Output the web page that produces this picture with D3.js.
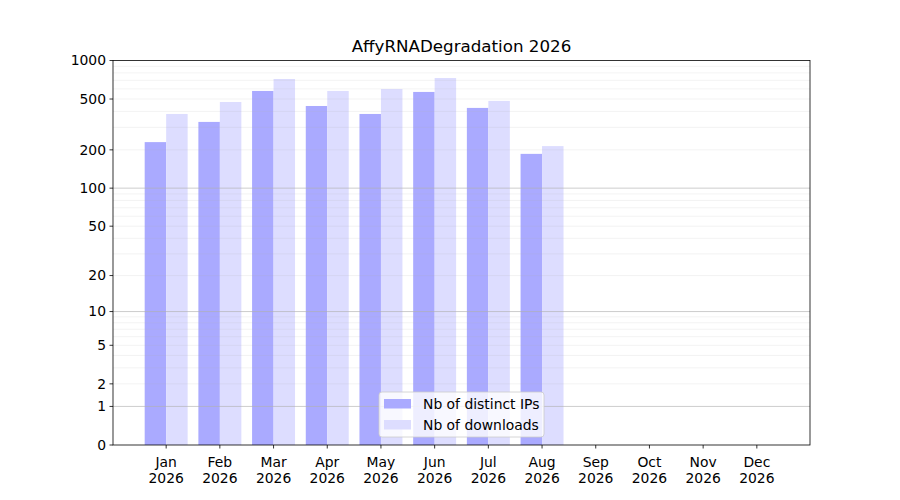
<!DOCTYPE html>
<html><head><meta charset="utf-8">
<script src="https://cdn.jsdelivr.net/npm/d3@7"></script>
<style>body{margin:0;background:#fff}svg{font-family:"DejaVu Sans",sans-serif}</style>
</head><body><svg id="c" width="900" height="500"></svg>
<script>
const months = ["Jan","Feb","Mar","Apr","May","Jun","Jul","Aug","Sep","Oct","Nov","Dec"];
const year = "2026";
const ips = [230,331,578,441,382,568,426,186,0,0,0,0];
const downloads = [382,474,717,578,599,730,483,214,0,0,0,0];
const yTicks = [0,1,2,5,10,20,50,100,200,500,1000];
const majorGrid = [1,10,100];
const minorGrid = [2,3,4,5,6,7,8,9,20,30,40,50,60,70,80,90,200,300,400,500,600,700,800,900];
const title = "AffyRNADegradation 2026";
const seriesNames = ["Nb of distinct IPs","Nb of downloads"];
const colors = ["#aaaaff","#ddddff"];

const svg = d3.select("#c");
const L=113, R=810, T=60.5, B=445;
const x = d3.scaleLinear().domain([-0.99,11.99]).range([L,R]);
const lg = d3.scaleLog().domain([1,1001]).range([B,T]);
const y = v => lg(v+1);
const bw = 0.4;
const fs = "13.9px";

// bars
[ips, downloads].forEach((arr,si)=>{
  svg.append("g").selectAll("rect").data(arr).join("rect")
    .attr("x",(d,i)=>x(i + (si===0?-bw:0)))
    .attr("width",x(bw)-x(0))
    .attr("y",d=>y(d))
    .attr("height",d=>B-y(d))
    .attr("fill",colors[si]);
});
// grid
svg.append("g").selectAll("line").data(minorGrid).join("line")
  .attr("x1",L).attr("x2",R).attr("y1",d=>y(d)).attr("y2",d=>y(d))
  .attr("stroke","#b0b0b0").attr("stroke-opacity",0.2).attr("stroke-width",0.8);
svg.append("g").selectAll("line").data(majorGrid).join("line")
  .attr("x1",L).attr("x2",R).attr("y1",d=>y(d)).attr("y2",d=>y(d))
  .attr("stroke","#b0b0b0").attr("stroke-opacity",0.8).attr("stroke-width",0.8);

// axes
const ya = svg.append("g").attr("transform",`translate(${L},0)`);
ya.selectAll("line").data(yTicks).join("line")
  .attr("x1",-3.5).attr("x2",0).attr("y1",d=>y(d)).attr("y2",d=>y(d)).attr("stroke","#000").attr("stroke-width",0.8);
ya.selectAll("text").data(yTicks).join("text")
  .attr("x",-7).attr("y",d=>y(d)).attr("dy","0.35em").attr("text-anchor","end")
  .attr("font-size",fs).attr("fill","#000").text(d=>d);

const xa = svg.append("g").attr("transform",`translate(0,${B})`);
const xt = xa.selectAll("g").data(months).join("g").attr("transform",(d,i)=>`translate(${x(i)},0)`);
xt.append("line").attr("y1",0).attr("y2",3.5).attr("stroke","#000").attr("stroke-width",0.8);
xt.append("text").attr("y",22).attr("text-anchor","middle").attr("font-size",fs).text(d=>d);
xt.append("text").attr("y",38).attr("text-anchor","middle").attr("font-size",fs).text(year);

svg.append("rect").attr("x",L).attr("y",T).attr("width",R-L).attr("height",B-T)
  .attr("fill","none").attr("stroke","#000").attr("stroke-width",0.8);

svg.append("text").attr("x",(L+R)/2).attr("y",52).attr("text-anchor","middle")
  .attr("font-size","16.7px").text(title);

// legend
const lgd = svg.append("g").attr("transform","translate(379,392)");
lgd.append("rect").attr("width",165).attr("height",45).attr("rx",3)
  .attr("fill","#fff").attr("fill-opacity",0.8).attr("stroke","#cccccc").attr("stroke-width",0.8);
seriesNames.forEach((n,i)=>{
  lgd.append("rect").attr("x",5).attr("y",7+i*21).attr("width",27).attr("height",9.5).attr("fill",colors[i]);
  lgd.append("text").attr("x",44).attr("y",12+i*21).attr("dy","0.35em").attr("font-size",fs).text(n);
});
</script></body></html>
